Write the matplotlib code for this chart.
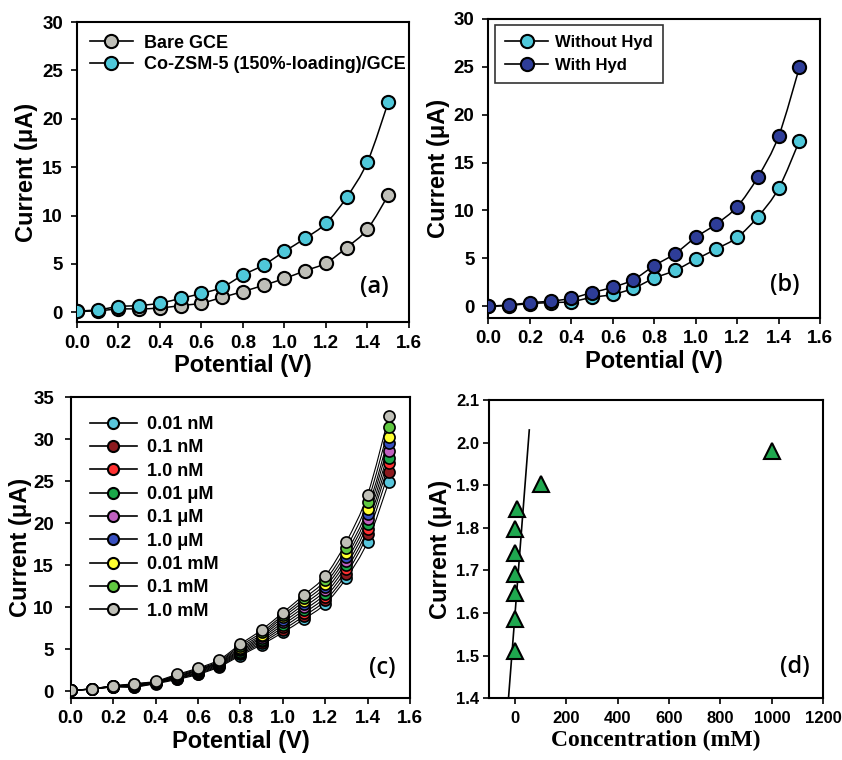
import numpy as np
import matplotlib
matplotlib.use("Agg")
import matplotlib.pyplot as plt
from matplotlib.path import Path
from matplotlib.patches import PathPatch
from matplotlib.lines import Line2D
from matplotlib.ticker import FormatStrFormatter

# ---------------- data ----------------
potential = [0.0, 0.1, 0.2, 0.3, 0.4, 0.5, 0.6, 0.7, 0.8, 0.9, 1.0, 1.1, 1.2, 1.3, 1.4, 1.5]

# panel (a)
bare_gce = [0.10, 0.15, 0.35, 0.35, 0.45, 0.70, 0.95, 1.55, 2.15, 2.80, 3.50, 4.30, 5.10, 6.70, 8.60, 12.10]
co_zsm5 = [0.15, 0.25, 0.60, 0.70, 0.95, 1.45, 1.95, 2.60, 3.85, 4.90, 6.30, 7.65, 9.20, 11.90, 15.55, 21.70]

# panel (b)
without_hyd = [0.00, 0.10, 0.30, 0.40, 0.50, 0.95, 1.25, 1.90, 2.95, 3.75, 4.90, 6.00, 7.20, 9.35, 12.30, 17.25]
with_hyd = [0.05, 0.15, 0.40, 0.55, 0.85, 1.45, 2.00, 2.80, 4.25, 5.50, 7.20, 8.60, 10.40, 13.50, 17.75, 24.90]

# panel (c)
conc_labels = ["0.01 nM", "0.1 nM", "1.0 nM", "0.01 \u03bcM", "0.1 \u03bcM", "1.0 \u03bcM",
               "0.01 mM", "0.1 mM", "1.0 mM"]
c_001nM = [0.10, 0.25, 0.50, 0.50, 0.90, 1.40, 2.00, 2.90, 4.25, 5.55, 7.00, 8.60, 10.40, 13.50, 17.80, 24.90]
c_01nM = [0.10, 0.25, 0.52, 0.55, 0.95, 1.50, 2.10, 3.00, 4.40, 5.75, 7.30, 8.95, 10.80, 14.00, 18.70, 26.10]
c_1nM = [0.10, 0.25, 0.54, 0.60, 1.00, 1.55, 2.20, 3.10, 4.55, 5.95, 7.60, 9.30, 11.20, 14.50, 19.30, 27.10]
c_001uM = [0.10, 0.27, 0.56, 0.65, 1.05, 1.60, 2.30, 3.20, 4.70, 6.15, 7.90, 9.65, 11.60, 15.00, 19.90, 27.80]
c_01uM = [0.10, 0.27, 0.58, 0.70, 1.10, 1.70, 2.40, 3.30, 4.85, 6.35, 8.20, 10.00, 12.00, 15.50, 20.50, 28.60]
c_1uM = [0.10, 0.28, 0.60, 0.75, 1.10, 1.75, 2.50, 3.40, 5.00, 6.55, 8.50, 10.35, 12.40, 16.00, 21.10, 29.50]
c_001mM = [0.10, 0.28, 0.62, 0.80, 1.15, 1.80, 2.55, 3.50, 5.20, 6.75, 8.80, 10.70, 12.80, 16.50, 21.70, 30.30]
c_01mM = [0.10, 0.30, 0.63, 0.85, 1.15, 1.90, 2.65, 3.60, 5.40, 7.00, 9.05, 11.05, 13.20, 17.10, 22.50, 31.40]
c_1mM = [0.10, 0.30, 0.65, 0.90, 1.20, 2.00, 2.75, 3.75, 5.60, 7.30, 9.35, 11.45, 13.70, 17.80, 23.40, 32.70]
c_series = [c_001nM, c_01nM, c_1nM, c_001uM, c_01uM, c_1uM, c_001mM, c_01mM, c_1mM]
c_colors = ["#58c6dc", "#8c1a1e", "#ff3030", "#1aa84a", "#c060c0", "#3850c0",
            "#ffff30", "#60c840", "#c0c0b8"]

# panel (d)
conc_mM = [0.00001, 0.0001, 0.001, 0.01, 0.1, 1.0, 10.0, 100.0, 1000.0]
current_d = [1.512, 1.585, 1.646, 1.692, 1.740, 1.797, 1.844, 1.904, 1.980]
fit_slope = 0.00778
fit_intercept = 1.594
fit_x = [-25.0, 56.0]

# ---------------- style ----------------
SANS = ["Liberation Sans", "DejaVu Sans"]
plt.rcParams["font.family"] = SANS
plt.rcParams["font.weight"] = "bold"

fig = plt.figure(figsize=(8.42, 7.60), dpi=100)

def smooth_curve(ax, x, y, lw=1.1, z=2):
    x = np.asarray(x, float)
    y = np.asarray(y, float)
    n = len(x)
    verts = [(x[0], y[0])]
    codes = [Path.MOVETO]
    for i in range(n - 1):
        i0 = max(i - 1, 0)
        i3 = min(i + 2, n - 1)
        c1 = (x[i] + (x[i + 1] - x[i0]) / 6.0, y[i] + (y[i + 1] - y[i0]) / 6.0)
        c2 = (x[i + 1] - (x[i3] - x[i]) / 6.0, y[i + 1] - (y[i3] - y[i]) / 6.0)
        verts += [c1, c2, (x[i + 1], y[i + 1])]
        codes += [Path.CURVE4] * 3
    ax.add_patch(PathPatch(Path(verts, codes), facecolor="none", edgecolor="black",
                           lw=lw, zorder=z))

def style_axes(ax, ypad, xpad=5, size=13.5):
    for s in ax.spines.values():
        s.set_linewidth(1.5)
    ax.tick_params(direction="out", length=4, width=1.2, labelsize=size,
                   top=False, right=False)
    ax.tick_params(axis="y", pad=ypad)
    ax.tick_params(axis="x", pad=xpad)
    for lab in ax.get_xticklabels() + ax.get_yticklabels():
        lab.set_fontweight("bold")

def panel_label(ax, txt, fx, fy):
    ax.text(fx, fy, txt, transform=ax.transAxes, ha="center", va="center",
            fontsize=17, family=["Open Sans", "DejaVu Sans"], fontweight="semibold")

def handle(fc, ms=9.5):
    return Line2D([], [], color="black", lw=1.2, marker="o", ms=ms,
                  mfc=fc, mec="black", mew=1.5)

# ---------- (a) ----------
axa = fig.add_axes([0.0914, 0.5763, 0.3943, 0.3947])
gray = "#bfbfb8"
cyan = "#4fc8da"
for ys, col in [(bare_gce, gray), (co_zsm5, cyan)]:
    smooth_curve(axa, potential, ys)
    axa.plot(potential, ys, ls="none", marker="o", ms=9.5, mfc=col, mec="black",
             mew=1.5, zorder=3)
axa.set_xlim(0, 1.6)
axa.set_ylim(-1, 30)
axa.set_xticks(np.arange(0, 1.61, 0.2))
axa.set_yticks(np.arange(0, 31, 5))
axa.xaxis.set_major_formatter(FormatStrFormatter("%.1f"))
style_axes(axa, ypad=6)
axa.set_xlabel("Potential (V)", fontsize=17, fontweight="bold", labelpad=2)
axa.set_ylabel("Current (\u03bcA)", fontsize=17, fontweight="bold", labelpad=3)
axa.legend([handle(gray), handle(cyan)], ["Bare GCE", "Co-ZSM-5 (150%-loading)/GCE"],
           loc="upper left", frameon=False, prop={"weight": "bold", "size": 13},
           handlelength=2.4, handletextpad=0.6, labelspacing=0.25,
           borderaxespad=0.2, borderpad=0.5)
panel_label(axa, "(a)", 0.895, 0.117)

# ---------- (b) ----------
axb = fig.add_axes([0.580, 0.5816, 0.394, 0.394])
dblue = "#2e3d98"
for ys, col in [(without_hyd, cyan), (with_hyd, dblue)]:
    smooth_curve(axb, potential, ys)
    axb.plot(potential, ys, ls="none", marker="o", ms=9.5, mfc=col, mec="black",
             mew=1.5, zorder=3)
axb.set_xlim(0, 1.6)
axb.set_ylim(-1.2, 30)
axb.set_xticks(np.arange(0, 1.61, 0.2))
axb.set_yticks(np.arange(0, 31, 5))
axb.xaxis.set_major_formatter(FormatStrFormatter("%.1f"))
style_axes(axb, ypad=6)
axb.set_xlabel("Potential (V)", fontsize=17, fontweight="bold", labelpad=2)
axb.set_ylabel("Current (\u03bcA)", fontsize=17, fontweight="bold", labelpad=3)
lg = axb.legend([handle(cyan), handle(dblue)], ["Without Hyd", "With Hyd"],
                loc="upper left", frameon=True, fancybox=False, prop={"weight": "bold", "size": 12},
                handlelength=2.6, handletextpad=0.4, labelspacing=0.45,
                borderaxespad=0.4, borderpad=0.6)
lg.get_frame().set_edgecolor("black")
lg.get_frame().set_linewidth(1.2)
panel_label(axb, "(b)", 0.895, 0.11)

# ---------- (c) ----------
axc = fig.add_axes([0.084, 0.0816, 0.403, 0.396])
for ys, col in zip(c_series, c_colors):
    smooth_curve(axc, potential, ys, lw=0.8, z=2)
    axc.plot(potential, ys, ls="none", marker="o", ms=8, mfc=col, mec="black",
             mew=1.2, zorder=3)
axc.set_xlim(0, 1.6)
axc.set_ylim(-0.8, 35)
axc.set_xticks(np.arange(0, 1.61, 0.2))
axc.set_yticks(np.arange(0, 36, 5))
axc.xaxis.set_major_formatter(FormatStrFormatter("%.1f"))
style_axes(axc, ypad=8)
axc.set_xlabel("Potential (V)", fontsize=17, fontweight="bold", labelpad=2)
axc.set_ylabel("Current (\u03bcA)", fontsize=17, fontweight="bold", labelpad=1)
axc.legend([handle(c, ms=8) for c in c_colors], conc_labels,
           loc="upper left", frameon=False, prop={"weight": "bold", "size": 13},
           handlelength=2.6, handletextpad=0.6, labelspacing=0.35,
           borderaxespad=0.3, borderpad=0.75)
panel_label(axc, "(c)", 0.917, 0.099)

# ---------- (d) ----------
axd = fig.add_axes([0.581, 0.0812, 0.3967, 0.3925])
fx = np.asarray(fit_x)
axd.plot(fx, fit_intercept + fit_slope * fx, color="black", lw=1.2, zorder=2)
axd.plot(conc_mM, current_d, ls="none", marker="^", ms=12, mfc="#1fa84f",
         mec="black", mew=1.5, zorder=3)
axd.set_xlim(-100, 1200)
axd.set_ylim(1.4, 2.1)
axd.set_xticks(np.arange(0, 1201, 200))
axd.set_yticks(np.arange(1.4, 2.101, 0.1))
axd.yaxis.set_major_formatter(FormatStrFormatter("%.1f"))
style_axes(axd, ypad=3, size=12)
axd.set_xlabel("Concentration (mM)", fontsize=17, fontweight="bold",
               family=["Liberation Serif", "DejaVu Serif"], labelpad=3)
axd.set_ylabel("Current (\u03bcA)", fontsize=17, fontweight="bold", labelpad=3)
panel_label(axd, "(d)", 0.915, 0.106)

fig.savefig("out.png", dpi=100)
